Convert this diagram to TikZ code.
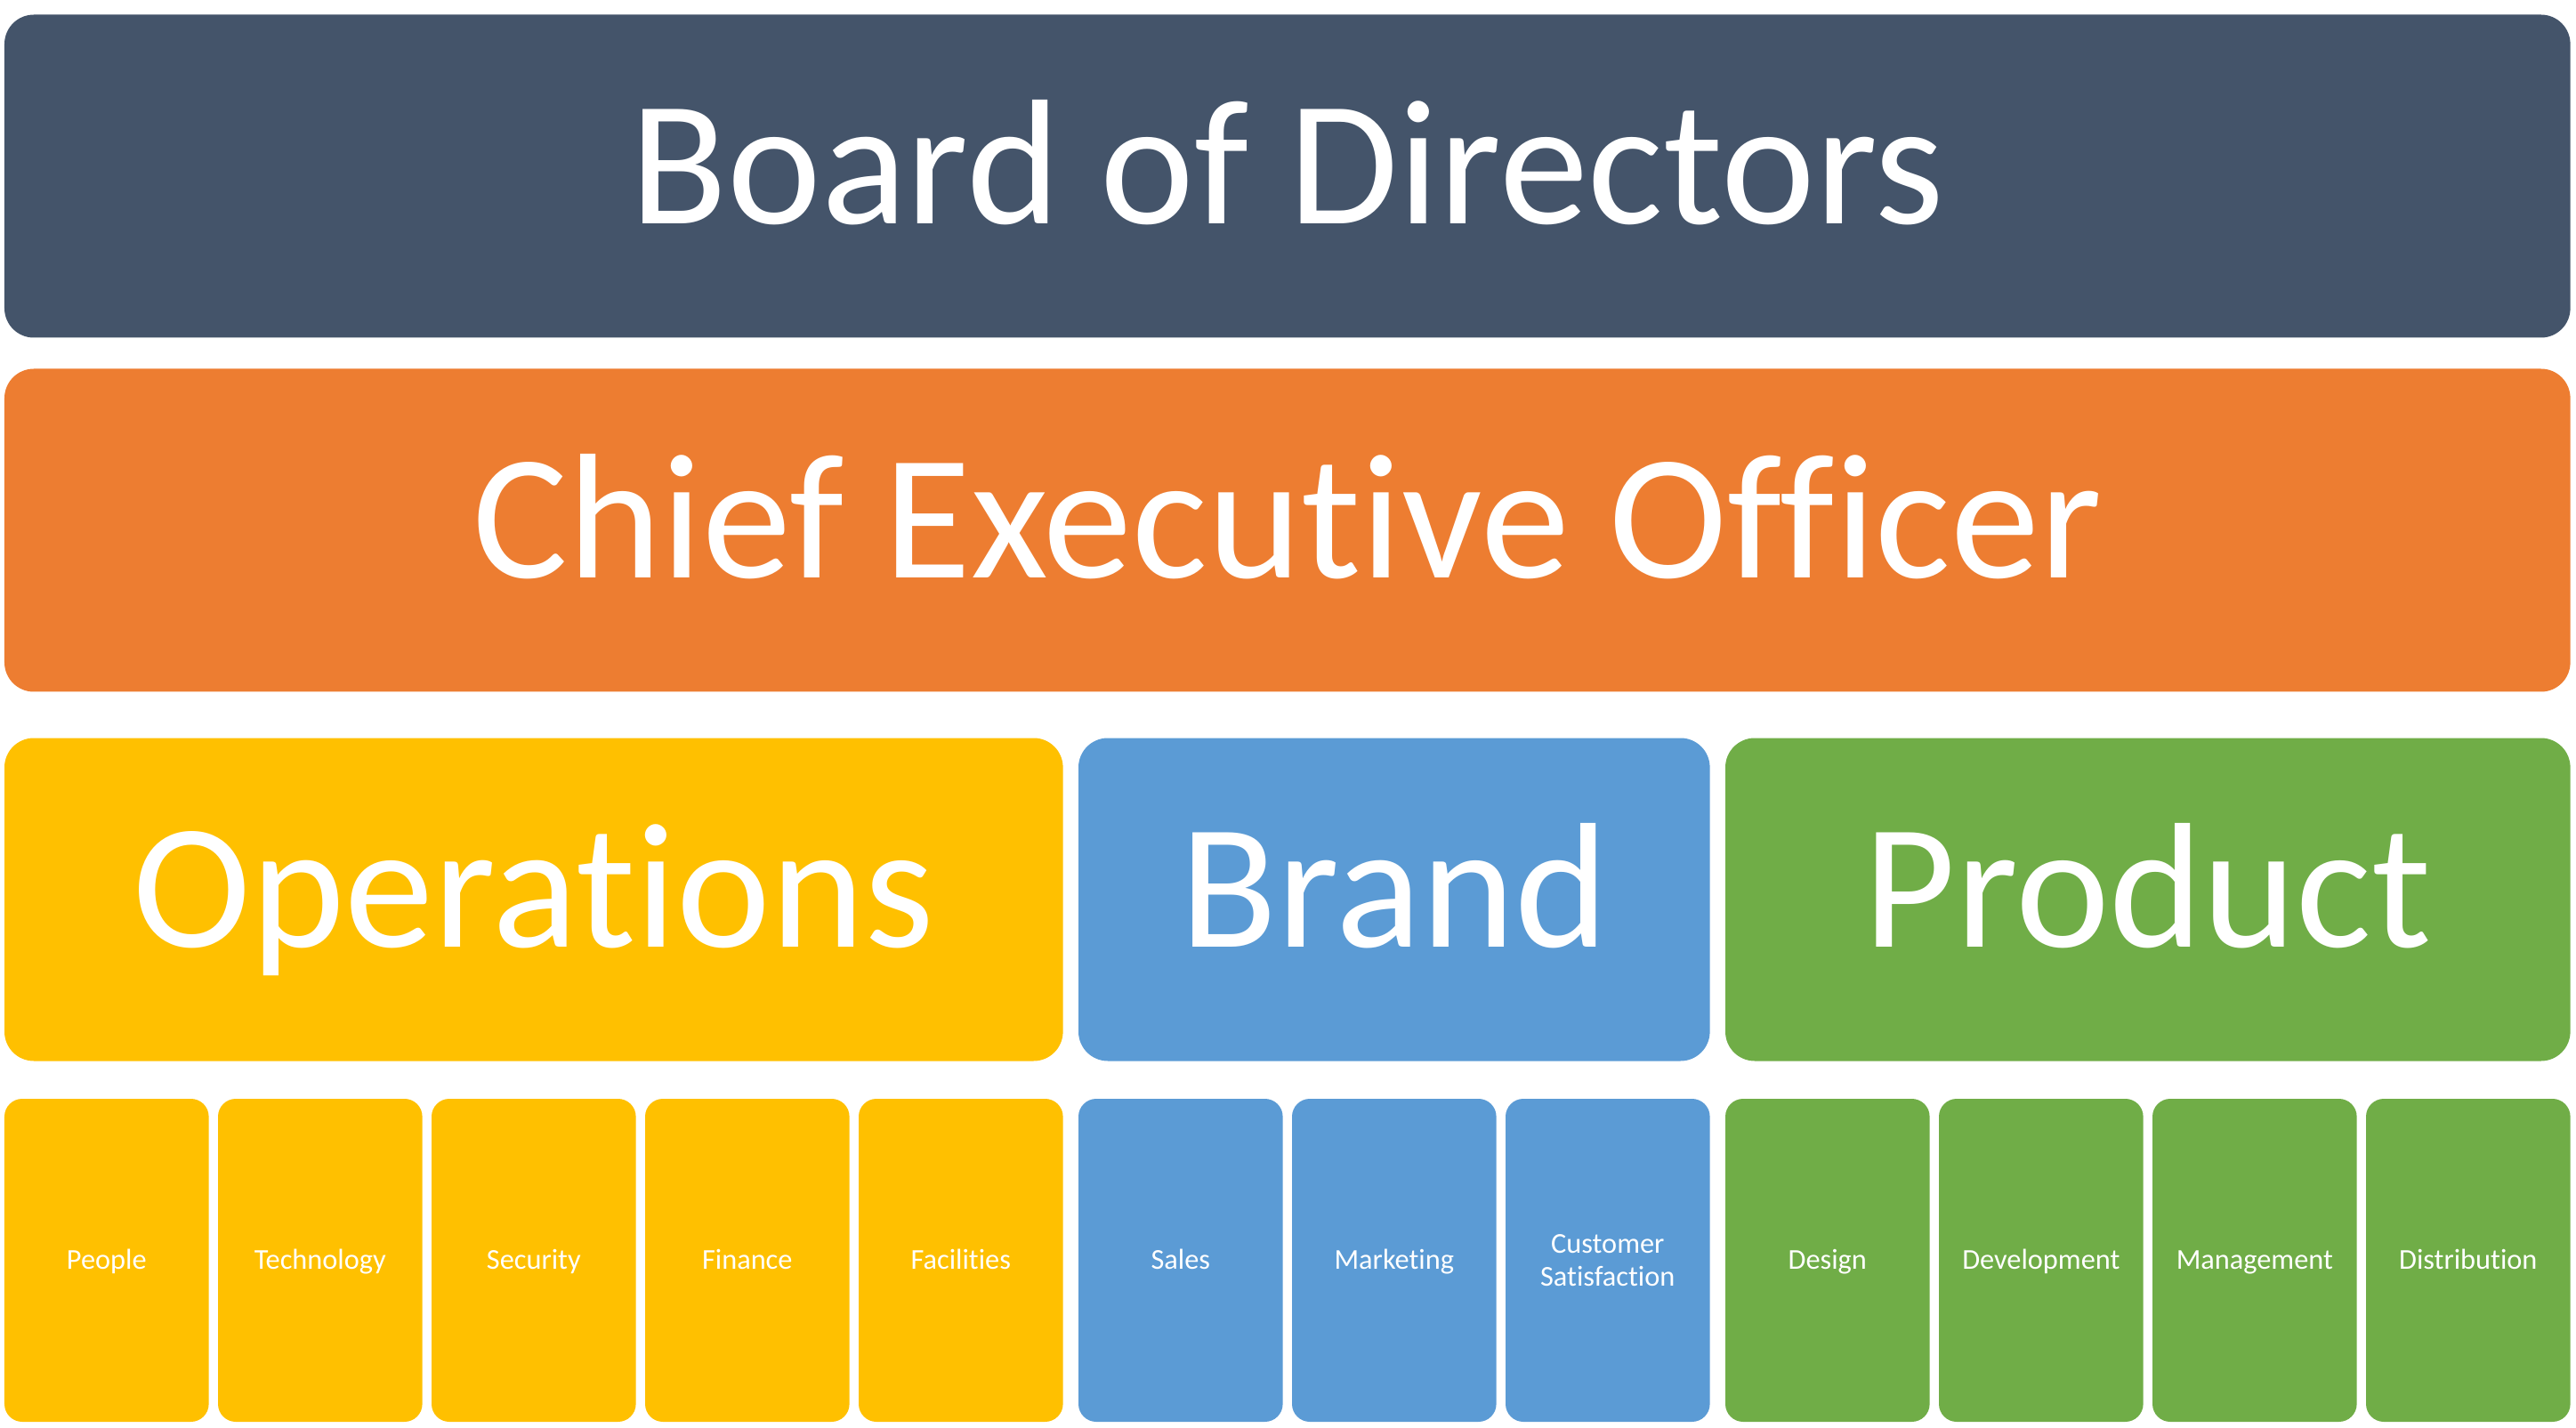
\documentclass[tikz,border=0pt]{standalone}
\usepackage{fontspec}
\setmainfont{Carlito}[Ligatures=CommonOff]
\definecolor{boardcol}{HTML}{44546A}
\definecolor{ceocol}{HTML}{ED7D31}
\definecolor{opscol}{HTML}{FFC000}
\definecolor{brandcol}{HTML}{5B9BD5}
\definecolor{prodcol}{HTML}{70AD47}
\tikzset{
  box/.style={rectangle, inner sep=0pt, text=white, align=center},
  bigbox/.style={box, rounded corners=0.33cm, minimum height=3.63cm,
    font=\fontsize{57}{60}\selectfont, text height=42.7pt, text depth=12.5pt},
  subbox/.style={box, rounded corners=0.2cm, minimum width=2.296cm,
    minimum height=3.63cm, font=\fontsize{9.2}{10.4}\selectfont,
    text height=6.4pt, text depth=0.6pt},
  twoline/.style={text height=, text depth=}
}
\begin{document}
\begin{tikzpicture}
    \useasboundingbox (0,0) rectangle (28.95,16.04);
    % top two levels
    \node[bigbox, fill=boardcol, minimum width=28.836cm] (board) at (14.468,14.06) {Board of Directors};
    \node[bigbox, fill=ceocol, minimum width=28.836cm]   (ceo)   at (14.468,10.08) {Chief Executive Officer};
    % divisions
    \node[bigbox, fill=opscol, minimum width=11.896cm]  (ops)     at (5.998,5.93)  {Operations};
    \node[bigbox, fill=brandcol, minimum width=7.096cm] (brand)   at (15.668,5.93) {Brand};
    \node[bigbox, fill=prodcol, minimum width=9.496cm]  (product) at (24.138,5.93) {Product};
    % departments
    \foreach \x/\n/\t/\c/\s in {
        1.198/people/People/opscol/{},
        3.598/tech/Technology/opscol/{},
        5.998/security/Security/opscol/{},
        8.398/finance/Finance/opscol/{},
        10.798/facilities/Facilities/opscol/{},
        13.268/sales/Sales/brandcol/{},
        15.668/marketing/Marketing/brandcol/{},
        18.068/custsat/Customer\\Satisfaction/brandcol/twoline,
        20.538/design/Design/prodcol/{},
        22.938/devel/Development/prodcol/{},
        25.338/mgmt/Management/prodcol/{},
        27.738/distrib/Distribution/prodcol/{}}
      \node[subbox, fill=\c, \s] (\n) at (\x,1.875) {\t};
\end{tikzpicture}
\end{document}
